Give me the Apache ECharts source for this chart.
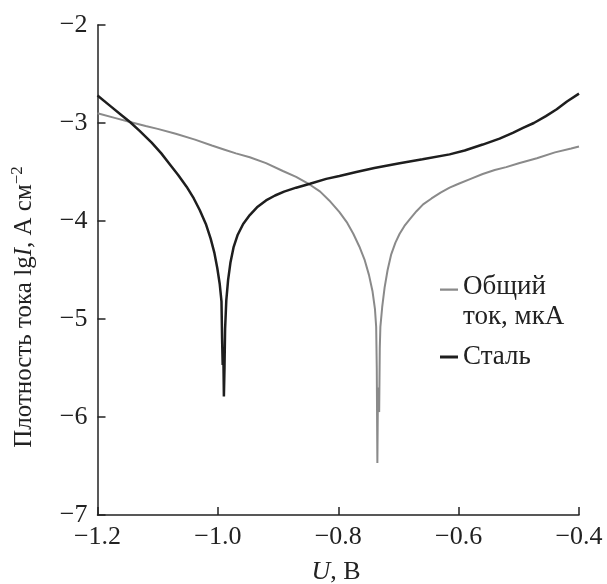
<!DOCTYPE html>
<html>
<head>
<meta charset="utf-8">
<script src="https://cdn.jsdelivr.net/npm/echarts@6/dist/echarts.min.js"></script>
<style>
html,body{margin:0;padding:0;background:#fff;}
#c{width:607px;height:584px;}
</style>
</head>
<body>
<div id="c"></div>
<script>
// Potential U (V), log current density lgI
const steelU = [-1.200,-1.180,-1.160,-1.146,-1.130,-1.110,-1.094,-1.080,-1.066,-1.052,-1.040,-1.030,-1.020,-1.012,-1.006,-1.001,-0.997,-0.994,-0.993,-0.992,-0.991,-0.990,-0.989,-0.988,-0.986,-0.983,-0.979,-0.974,-0.967,-0.958,-0.947,-0.935,-0.920,-0.905,-0.890,-0.870,-0.847,-0.820,-0.798,-0.770,-0.740,-0.698,-0.660,-0.615,-0.590,-0.560,-0.532,-0.510,-0.493,-0.475,-0.455,-0.437,-0.420,-0.400];
const steelLg = [-2.72,-2.82,-2.92,-2.99,-3.08,-3.20,-3.31,-3.42,-3.53,-3.65,-3.77,-3.89,-4.03,-4.18,-4.32,-4.48,-4.64,-4.82,-5.20,-5.47,-5.30,-5.79,-5.50,-5.10,-4.81,-4.60,-4.42,-4.27,-4.14,-4.03,-3.94,-3.86,-3.79,-3.74,-3.70,-3.66,-3.62,-3.57,-3.54,-3.50,-3.46,-3.41,-3.37,-3.32,-3.28,-3.22,-3.16,-3.10,-3.05,-3.00,-2.93,-2.86,-2.78,-2.70];
const totalU = [-1.200,-1.170,-1.146,-1.120,-1.100,-1.070,-1.038,-1.010,-0.990,-0.970,-0.947,-0.920,-0.892,-0.870,-0.847,-0.830,-0.815,-0.798,-0.785,-0.775,-0.765,-0.756,-0.749,-0.743,-0.739,-0.737,-0.736,-0.735,-0.734,-0.732,-0.731,-0.730,-0.727,-0.723,-0.718,-0.712,-0.705,-0.698,-0.690,-0.681,-0.670,-0.659,-0.645,-0.630,-0.615,-0.600,-0.580,-0.560,-0.540,-0.521,-0.500,-0.470,-0.440,-0.413,-0.400];
const totalLg = [-2.90,-2.95,-2.99,-3.03,-3.06,-3.11,-3.17,-3.23,-3.27,-3.31,-3.35,-3.41,-3.49,-3.55,-3.63,-3.70,-3.79,-3.91,-4.02,-4.13,-4.26,-4.40,-4.55,-4.72,-4.90,-5.08,-5.50,-6.47,-5.70,-5.95,-5.30,-5.08,-4.88,-4.68,-4.50,-4.34,-4.22,-4.13,-4.05,-3.98,-3.90,-3.83,-3.77,-3.71,-3.66,-3.62,-3.57,-3.52,-3.48,-3.45,-3.41,-3.36,-3.30,-3.26,-3.24];
const seriesNames = ['Общий\nток, мкА', 'Сталь'];
const xTicks = [-1.2,-1.0,-0.8,-0.6,-0.4];
const yTicks = [-7,-6,-5,-4,-3,-2];

const FONT = '"Liberation Serif", "Times New Roman", serif';
const zip = (a,b) => a.map((v,i)=>[v,b[i]]);
const minus = s => s.replace('-', '\u2212');

const chart = echarts.init(document.getElementById('c'), null, {renderer:'canvas'});
chart.setOption({
  animation:false,
  backgroundColor:'#fff',
  textStyle:{fontFamily:FONT},
  grid:{left:97.5, right:28, top:25, bottom:69, containLabel:false},
  xAxis:{
    type:'value', min:xTicks[0], max:xTicks[xTicks.length-1], interval:0.2,
    axisLine:{show:true, lineStyle:{color:'#222', width:1.5}},
    axisTick:{show:true, inside:true, length:8, lineStyle:{color:'#222', width:1.5}},
    splitLine:{show:false},
    axisLabel:{fontFamily:FONT, fontSize:26, color:'#222', margin:9,
      formatter:v => minus(Number(v).toFixed(1))}
  },
  yAxis:{
    type:'value', min:yTicks[0], max:yTicks[yTicks.length-1], interval:1,
    axisLine:{show:true, lineStyle:{color:'#222', width:1.5}},
    axisTick:{show:true, inside:true, length:8, lineStyle:{color:'#222', width:1.5}},
    splitLine:{show:false},
    axisLabel:{fontFamily:FONT, fontSize:26, color:'#222', margin:10,
      formatter:v => minus(Number(v).toFixed(0))}
  },
  legend:[
    {
      data:[seriesNames[0]], orient:'vertical', left:440, top:272, padding:0,
      itemWidth:18, itemHeight:60,
      icon:'path://M0,15H20V17.5H0Z M0,0H0.01V0.01H0Z M19.99,59.99H20V60H19.99Z',
      textStyle:{fontFamily:FONT, fontSize:27, color:'#222', lineHeight:30},
      selectedMode:false
    },
    {
      data:[seriesNames[1]], orient:'vertical', left:440, top:342, padding:0,
      itemWidth:18, itemHeight:3, icon:'rect',
      textStyle:{fontFamily:FONT, fontSize:27, color:'#222', lineHeight:30},
      selectedMode:false
    }
  ],
  graphic:[
    {
      type:'text', x:24, y:307, rotation:Math.PI/2,
      style:{
        text:'{a|Плотность тока lg}{i|I}{a|, А см}{s|−2}',
        align:'center', verticalAlign:'middle', fill:'#222',
        rich:{
          a:{fontFamily:FONT, fontSize:25, fill:'#222', lineHeight:30},
          i:{fontFamily:FONT, fontSize:25, fontStyle:'italic', fill:'#222', lineHeight:30},
          s:{fontFamily:FONT, fontSize:17, fill:'#222', verticalAlign:'top', lineHeight:30}
        }
      }
    },
    {
      type:'text', x:336, y:572,
      style:{
        text:'{i|U}{a|, В}',
        align:'center', verticalAlign:'middle', fill:'#222',
        rich:{
          a:{fontFamily:FONT, fontSize:26, fill:'#222'},
          i:{fontFamily:FONT, fontSize:26, fontStyle:'italic', fill:'#222'}
        }
      }
    }
  ],
  series:[
    {
      name:seriesNames[0], type:'line', data:zip(totalU,totalLg),
      showSymbol:false, symbol:'none', smooth:false,
      lineStyle:{color:'#8a8a8a', width:2}, itemStyle:{color:'#8a8a8a'}, z:2
    },
    {
      name:seriesNames[1], type:'line', data:zip(steelU,steelLg),
      showSymbol:false, symbol:'none', smooth:false,
      lineStyle:{color:'#1e1e1e', width:2.5}, itemStyle:{color:'#1e1e1e'}, z:3
    }
  ]
});
</script>
</body>
</html>
